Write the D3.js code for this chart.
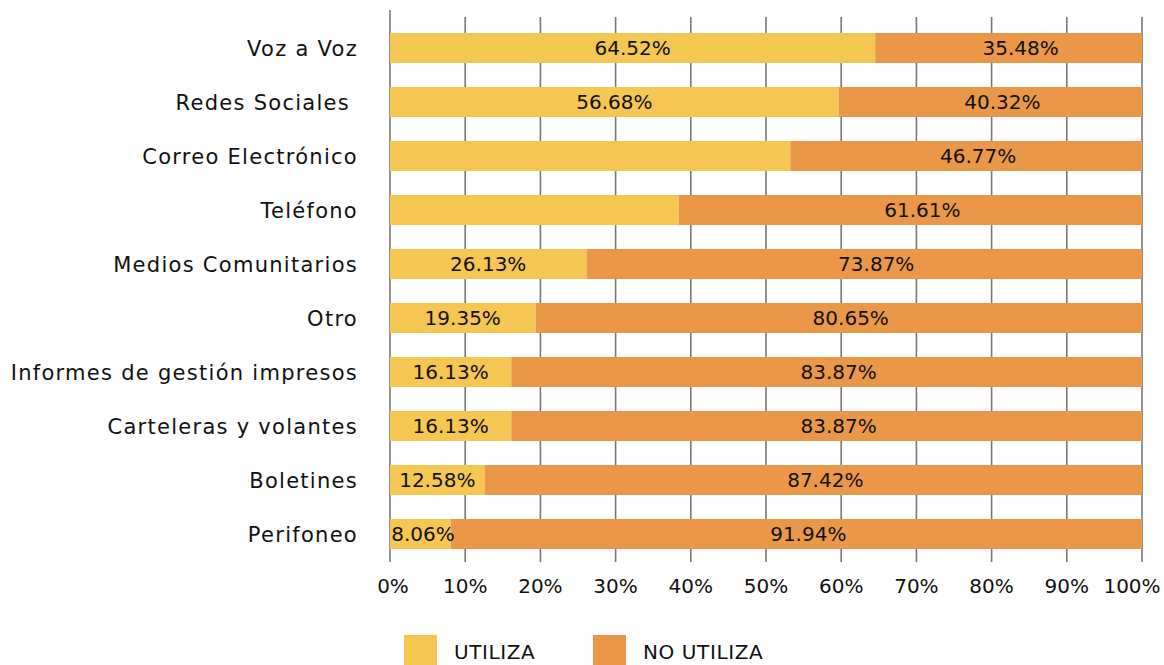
<!DOCTYPE html>
<html>
<head>
<meta charset="utf-8">
<script src="https://cdn.jsdelivr.net/npm/d3@7"></script>
<style>
  html, body { margin: 0; padding: 0; background: #fff; }
  svg { display: block; }
  text { font-family: "DejaVu Sans", sans-serif; fill: #111; white-space: pre; }
</style>
</head>
<body>
<svg id="chart" width="1164" height="665"></svg>
<script>
const categories = ["Voz a Voz","Redes Sociales ","Correo Electrónico","Teléfono","Medios Comunitarios","Otro","Informes de gestión impresos","Carteleras y volantes","Boletines","Perifoneo"];
const utiliza = [64.52, 59.68, 53.23, 38.39, 26.13, 19.35, 16.13, 16.13, 12.58, 8.06];
const noUtiliza = [35.48, 40.32, 46.77, 61.61, 73.87, 80.65, 83.87, 83.87, 87.42, 91.94];
const utilizaLabels = ["64.52%","56.68%","","","26.13%","19.35%","16.13%","16.13%","12.58%","8.06%"];
const noUtilizaLabels = ["35.48%","40.32%","46.77%","61.61%","73.87%","80.65%","83.87%","83.87%","87.42%","91.94%"];
const tickValues = [0,10,20,30,40,50,60,70,80,90,100];
const seriesNames = ["UTILIZA","NO UTILIZA"];
const colors = ["#F5C651","#EB9748"];

const svg = d3.select("#chart");
const x = d3.scaleLinear().domain([0,100]).range([390,1142]);
const y = d3.scaleBand().domain(categories).range([21,561]).paddingInner(0.444).paddingOuter(0.222);

// gridlines
svg.append("g").selectAll("line").data(tickValues.slice(1)).join("line")
  .attr("x1", d => x(d)).attr("x2", d => x(d))
  .attr("y1", 17).attr("y2", 562)
  .attr("stroke", "#777").attr("stroke-width", 1.6);
// axis line
svg.append("line").attr("x1", x(0)).attr("x2", x(0)).attr("y1", 10).attr("y2", 562)
  .attr("stroke", "#777").attr("stroke-width", 1.6);

const rows = categories.map((c,i) => ({c, u: utiliza[i], n: noUtiliza[i], ul: utilizaLabels[i], nl: noUtilizaLabels[i]}));

const g = svg.append("g");
g.selectAll("rect.u").data(rows).join("rect").attr("class","u")
  .attr("x", x(0)).attr("y", d => y(d.c))
  .attr("width", d => x(d.u) - x(0)).attr("height", y.bandwidth())
  .attr("fill", colors[0]);
g.selectAll("rect.n").data(rows).join("rect").attr("class","n")
  .attr("x", d => x(d.u)).attr("y", d => y(d.c))
  .attr("width", d => x(Math.min(100, d.u + d.n)) - x(d.u)).attr("height", y.bandwidth())
  .attr("fill", colors[1]);

g.selectAll("text.vu").data(rows.filter(d => d.ul)).join("text").attr("class","vu val")
  .attr("x", d => Math.max((x(0) + x(d.u)) / 2, x(0) + 33)).attr("y", d => y(d.c) + y.bandwidth()/2)
  .attr("dy", "0.36em").attr("text-anchor", "middle").attr("font-size", 20)
  .text(d => d.ul);
g.selectAll("text.vn").data(rows).join("text").attr("class","vn val")
  .attr("x", d => (x(d.u) + x(Math.min(100, d.u + d.n))) / 2 + 12).attr("y", d => y(d.c) + y.bandwidth()/2)
  .attr("dy", "0.36em").attr("text-anchor", "middle").attr("font-size", 20)
  .text(d => d.nl);

// category labels
const catText = svg.append("g").selectAll("text").data(categories).join("text").attr("class","cat")
  .attr("x", 358).attr("y", d => y(d) + y.bandwidth()/2)
  .attr("dy", "0.36em").attr("text-anchor", "end").attr("font-size", 21)
  .text(d => d);

// x tick labels
svg.append("g").selectAll("text").data(tickValues).join("text").attr("class","tick")
  .attr("x", d => x(d) + (d === 0 ? 3 : d === 100 ? -10 : 0)).attr("y", 593)
  .attr("text-anchor", "middle").attr("font-size", 20)
  .text(d => d + "%");

// legend
const legX = [404, 593];
const leg = svg.append("g").selectAll("g").data(seriesNames).join("g");
leg.append("rect").attr("x", (d,i) => legX[i]).attr("y", 635).attr("width", 33).attr("height", 33)
  .attr("fill", (d,i) => colors[i]);
leg.append("text").attr("class","leg").attr("x", (d,i) => legX[i] + 50).attr("y", 659)
  .attr("font-size", 20).attr("letter-spacing", 0.6).text(d => d);

// fit letter-spacing of category labels to the original width
const longest = catText.filter(d => d === "Informes de gestión impresos").node();
const w = longest.getComputedTextLength();
const n = "Informes de gestión impresos".length;
const ls = Math.max(0, Math.min(1.5, (346 - w) / (n - 1)));
catText.attr("letter-spacing", ls.toFixed(2));
</script>
</body>
</html>
